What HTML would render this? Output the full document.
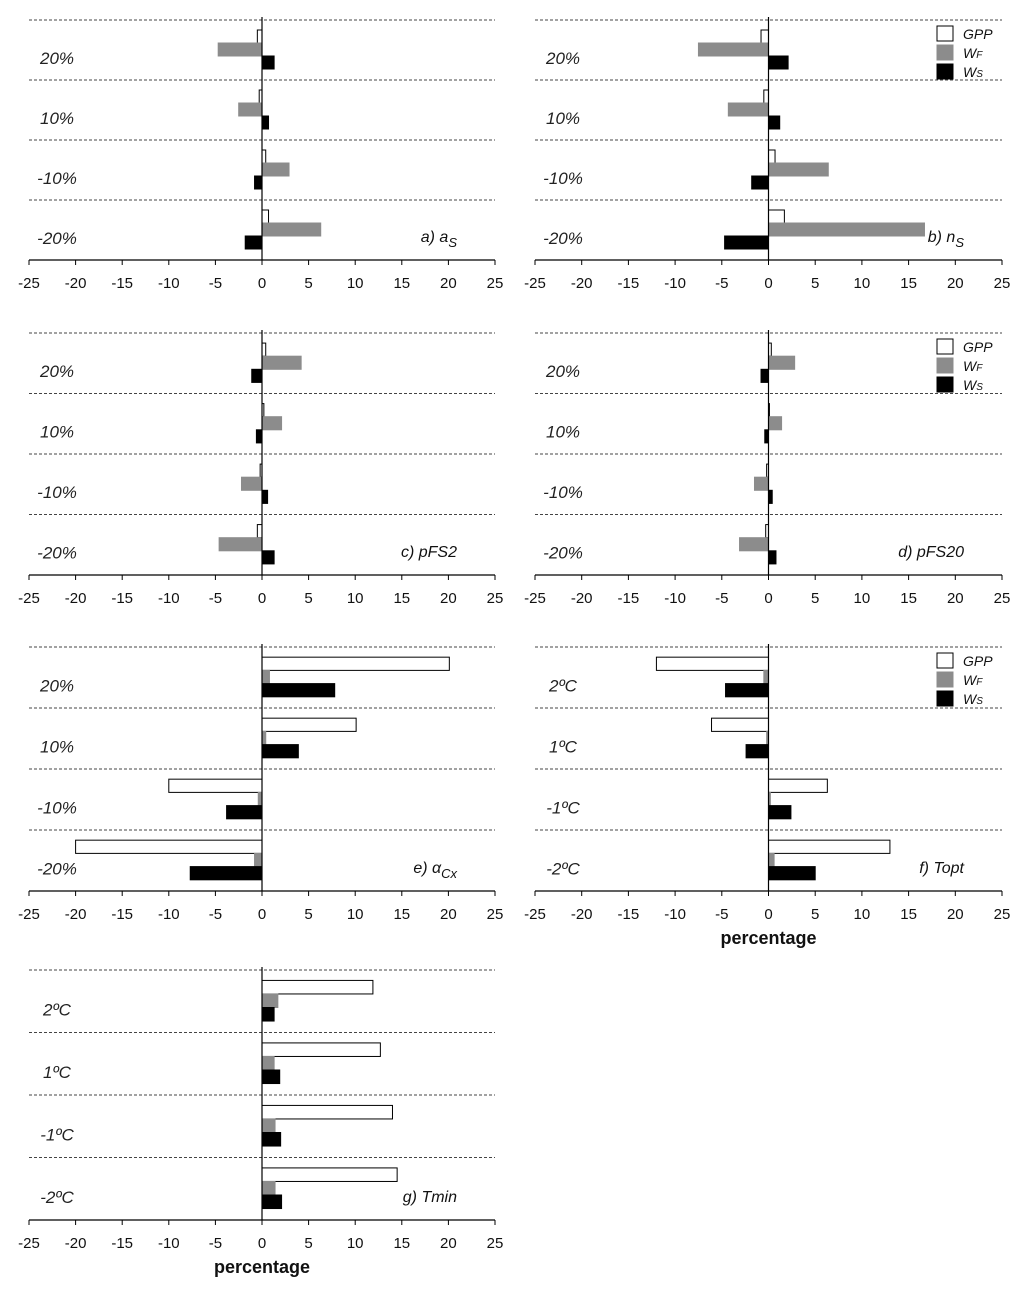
<!DOCTYPE html>
<html><head><meta charset="utf-8"><style>
body{margin:0;background:#fff;}
svg{display:block;font-family:"Liberation Sans",sans-serif;}
</style></head><body>
<svg id="chart" width="1024" height="1291" viewBox="0 0 1024 1291"></svg>
<script>
const tickLabels = [-25,-20,-15,-10,-5,0,5,10,15,20,25];
const seriesNames = ["GPP","WF","WS"];
const catsPct = ["20%","10%","-10%","-20%"];
const catsTemp = ["2ºC","1ºC","-1ºC","-2ºC"];
const gppA=[-0.5,-0.3,0.4,0.7], wfA=[-4.7,-2.5,2.9,6.3], wsA=[1.3,0.7,-0.8,-1.8];
const gppB=[-0.8,-0.5,0.7,1.7], wfB=[-7.5,-4.3,6.4,16.7], wsB=[2.1,1.2,-1.8,-4.7];
const gppC=[0.4,0.2,-0.2,-0.5], wfC=[4.2,2.1,-2.2,-4.6], wsC=[-1.1,-0.6,0.6,1.3];
const gppD=[0.3,0.1,-0.2,-0.3], wfD=[2.8,1.4,-1.5,-3.1], wsD=[-0.8,-0.4,0.4,0.8];
const gppE=[20.1,10.1,-10.0,-20.0], wfE=[0.8,0.4,-0.4,-0.8], wsE=[7.8,3.9,-3.8,-7.7];
const gppF=[-12.0,-6.1,6.3,13.0], wfF=[-0.5,-0.2,0.2,0.6], wsF=[-4.6,-2.4,2.4,5.0];
const gppG=[11.9,12.7,14.0,14.5], wfG=[1.7,1.3,1.4,1.4], wsG=[1.3,1.9,2.0,2.1];

const NS="http://www.w3.org/2000/svg";
const svg=document.getElementById('chart');
function mk(tag,attrs,parent){const e=document.createElementNS(NS,tag);for(const k in attrs)e.setAttribute(k,attrs[k]);(parent||svg).appendChild(e);return e;}

const panels=[
 {id:'a',x0:29,x1:495,top:20,bot:260,cats:catsPct,g:gppA,f:wfA,s:wsA,lab:'a) a',sub:'S',legend:false},
 {id:'b',x0:535,x1:1002,top:20,bot:260,cats:catsPct,g:gppB,f:wfB,s:wsB,lab:'b) n',sub:'S',legend:true},
 {id:'c',x0:29,x1:495,top:333,bot:575,cats:catsPct,g:gppC,f:wfC,s:wsC,lab:'c) pFS2',sub:'',legend:false},
 {id:'d',x0:535,x1:1002,top:333,bot:575,cats:catsPct,g:gppD,f:wfD,s:wsD,lab:'d) pFS20',sub:'',legend:true},
 {id:'e',x0:29,x1:495,top:647,bot:891,cats:catsPct,g:gppE,f:wfE,s:wsE,lab:'e) α',sub:'Cx',legend:false},
 {id:'f',x0:535,x1:1002,top:647,bot:891,cats:catsTemp,g:gppF,f:wfF,s:wsF,lab:'f) Topt',sub:'',legend:true,xtitle:true},
 {id:'g',x0:29,x1:495,top:970,bot:1220,cats:catsTemp,g:gppG,f:wfG,s:wsG,lab:'g) Tmin',sub:'',legend:false,xtitle:true}
];
const fills=['#fff','#8c8c8c','#000'];
panels.forEach(p=>{
  const grp=mk('g',{});
  
  
  const xs=v=>p.x0+(v+25)/50*(p.x1-p.x0);
  const gh=(p.bot-p.top)/4;
  for(let i=0;i<4;i++){
    const l=mk('line',{x1:p.x0,x2:p.x1,y1:p.top+i*gh,y2:p.top+i*gh,stroke:'#444','stroke-width':1,'stroke-dasharray':'3,2'},grp);
    
    
  }
  p.cats.forEach((c,i)=>{
    const gy=p.top+i*gh;
    const t=mk('text',{x:p.x0+28,y:gy+gh*0.73,'font-size':17,'font-style':'italic','text-anchor':'middle',fill:'#222'},grp);
    t.textContent=c;
    
    
    [p.g,p.f,p.s].forEach((arr,k)=>{
      const v=arr[i];
      const bh=gh*13/60;
      const y=gy+gh*10/60+k*bh;
      const xa=xs(Math.min(0,v)), xb=xs(Math.max(0,v));
      const r=mk('rect',{x:xa,y:y,width:Math.max(xb-xa,0.5),height:bh,fill:fills[k],stroke:k==1?'#8c8c8c':'#000','stroke-width':1},grp);
      
      
    });
  });
  const z=mk('line',{x1:xs(0),x2:xs(0),y1:p.top-3,y2:p.bot,stroke:'#000','stroke-width':1.2},grp);
  
  
  const ax=mk('line',{x1:p.x0,x2:p.x1,y1:p.bot,y2:p.bot,stroke:'#000','stroke-width':1.2},grp);
  
  
  tickLabels.forEach(v=>{
    mk('line',{x1:xs(v),x2:xs(v),y1:p.bot,y2:p.bot+5,stroke:'#000','stroke-width':1},grp);
    const t=mk('text',{x:xs(v),y:p.bot+28,'font-size':15,'text-anchor':'middle',fill:'#111'},grp);
    t.textContent=v;
    
    
  });
  const pl=mk('text',{x:p.x1-38,y:p.bot-18,'font-size':16,'font-style':'italic','text-anchor':'end',fill:'#111'},grp);
  pl.textContent=p.lab;
  if(p.sub){const ts=mk('tspan',{dy:5,'font-size':13},pl);ts.textContent=p.sub;}
  
  
  if(p.xtitle){
    const xt=mk('text',{x:xs(0),y:p.bot+53,'font-size':18,'font-weight':'bold','text-anchor':'middle',fill:'#111'},grp);
    xt.textContent='percentage';
    
    
  }
  if(p.legend){
    const lg=mk('g',{},grp);
    
    
    const labs=[['GPP',''],['W','F'],['W','S']];
    labs.forEach((l,k)=>{
      const y=p.top+6+k*19;
      mk('rect',{x:937,y:y,width:16,height:15,fill:fills[k],stroke:k==1?'#8c8c8c':'#000'},lg);
      const t=mk('text',{x:963,y:y+13,'font-size':14,'font-style':'italic',fill:'#111'},lg);
      t.textContent=l[0];
      if(l[1]){const ts=mk('tspan',{'font-size':10},t);ts.textContent=l[1];}
      
      
    });
  }
});
</script>
</body></html>
